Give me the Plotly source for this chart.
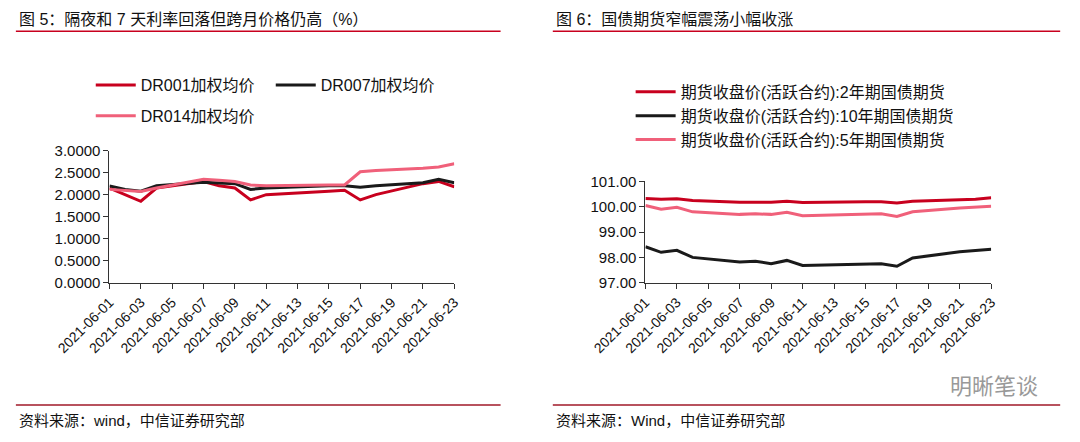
import plotly.graph_objects as go

dates = ["2021-06-01", "2021-06-02", "2021-06-03", "2021-06-04", "2021-06-07", "2021-06-08",
         "2021-06-09", "2021-06-10", "2021-06-11", "2021-06-15", "2021-06-16", "2021-06-17",
         "2021-06-18", "2021-06-21", "2021-06-22", "2021-06-23"]

dr001 = [2.15, 2.00, 1.85, 2.15, 2.30, 2.20, 2.15, 1.88, 2.00, 2.08, 2.10, 1.88, 2.00, 2.25, 2.30, 2.18]
dr007 = [2.20, 2.12, 2.08, 2.20, 2.28, 2.27, 2.25, 2.12, 2.15, 2.20, 2.20, 2.17, 2.20, 2.27, 2.35, 2.27]
dr014 = [2.12, 2.10, 2.07, 2.15, 2.35, 2.33, 2.30, 2.22, 2.20, 2.22, 2.22, 2.52, 2.55, 2.60, 2.63, 2.70]

tf2 = [100.33, 100.30, 100.32, 100.25, 100.18, 100.18, 100.18, 100.22, 100.17, 100.20, 100.20, 100.15, 100.22, 100.28, 100.30, 100.36]
tf10 = [98.42, 98.20, 98.28, 98.00, 97.82, 97.85, 97.75, 97.88, 97.68, 97.72, 97.75, 97.65, 97.98, 98.22, 98.28, 98.32]
tf5 = [100.05, 99.90, 99.98, 99.80, 99.70, 99.72, 99.70, 99.78, 99.65, 99.70, 99.72, 99.62, 99.80, 99.95, 100.00, 100.02]

tick_vals = ["2021-06-%02d" % d for d in range(1, 24, 2)]

RED = "#c8001e"
BLACK = "#1a1a1a"
PINK = "#f0607a"
FONT = "Liberation Sans, Noto Sans CJK SC"

W, H = 1064, 426


def px(x):
    return x / 1080


def py(y):
    return 1 - y / 442


fig = go.Figure()
for name, ys, c, lg in [("DR001加权均价", dr001, RED, "legend"), ("DR007加权均价", dr007, BLACK, "legend"),
                        ("DR014加权均价", dr014, PINK, "legend3")]:
    fig.add_trace(go.Scatter(x=dates, y=ys, name=name, mode="lines", line=dict(color=c, width=3),
                             xaxis="x", yaxis="y", legend=lg))
for name, ys, c in [("期货收盘价(活跃合约):2年期国债期货", tf2, RED),
                    ("期货收盘价(活跃合约):10年期国债期货", tf10, BLACK),
                    ("期货收盘价(活跃合约):5年期国债期货", tf5, PINK)]:
    fig.add_trace(go.Scatter(x=dates, y=ys, name=name, mode="lines", line=dict(color=c, width=3),
                             xaxis="x2", yaxis="y2", legend="legend2"))

xcommon = dict(type="date", range=["2021-06-01", "2021-06-23"], tickvals=tick_vals, tickformat="%Y-%m-%d",
               tickangle=-45, ticks="outside", ticklen=5, tickcolor="#333", showline=True, linecolor="#333",
               showgrid=False, zeroline=False, tickfont=dict(size=14, color="#111"))
ycommon = dict(ticks="outside", ticklen=5, tickcolor="#333", showline=True, linecolor="#333",
               showgrid=False, zeroline=False, tickfont=dict(size=15, color="#111"))
legcommon = dict(xanchor="left", yanchor="middle", font=dict(size=16), itemwidth=40,
                 bgcolor="rgba(0,0,0,0)")

fig.update_layout(
    width=W, height=H, margin=dict(l=0, r=0, t=0, b=0, autoexpand=False),
    paper_bgcolor="white", plot_bgcolor="white", font=dict(family=FONT, color="#111"),
    xaxis=dict(domain=[px(103), px(453)], anchor="y", **xcommon),
    yaxis=dict(domain=[py(285), py(148)], anchor="x", range=[0, 3], dtick=0.5, tickformat=".4f", **ycommon),
    xaxis2=dict(domain=[px(647), px(998)], anchor="y2", **xcommon),
    yaxis2=dict(domain=[py(285), py(180)], anchor="x2", range=[97, 101], dtick=1, tickformat=".2f", **ycommon),
    legend=dict(x=px(84), y=py(80), orientation="h", entrywidth=125, **legcommon),
    legend3=dict(x=px(84), y=py(112), orientation="h", **legcommon),
    legend2=dict(x=px(632), y=py(112), orientation="v", tracegroupgap=0, **legcommon),
)

# title / footer rules
for x0, x1 in [(8, 500), (553, 1068)]:
    fig.add_shape(type="line", xref="paper", yref="paper", x0=px(x0), x1=px(x1),
                  y0=py(24), y1=py(24), line=dict(color=RED, width=1.5))
    fig.add_shape(type="line", xref="paper", yref="paper", x0=px(x0), x1=px(x1),
                  y0=py(412), y1=py(412), line=dict(color="#a01828", width=1.5))

texts = [
    (9, 12, "图 5：隔夜和 7 天利率回落但跨月价格仍高（%）", 16),
    (554, 12, "图 6：国债期货窄幅震荡小幅收涨", 16),
    (9, 428, "资料来源：wind，中信证券研究部", 15),
    (554, 428, "资料来源：Wind，中信证券研究部", 15),
]
for x, y, t, s in texts:
    fig.add_annotation(x=px(x), y=py(y), xref="paper", yref="paper", text=t, showarrow=False,
                       xanchor="left", yanchor="middle", font=dict(size=s, color="#111"))
fig.add_annotation(x=px(1048), y=py(393), xref="paper", yref="paper", text="明晰笔谈",
                   showarrow=False, xanchor="right", yanchor="middle", font=dict(size=22, color="#999"))

fig.write_html("out.html")
